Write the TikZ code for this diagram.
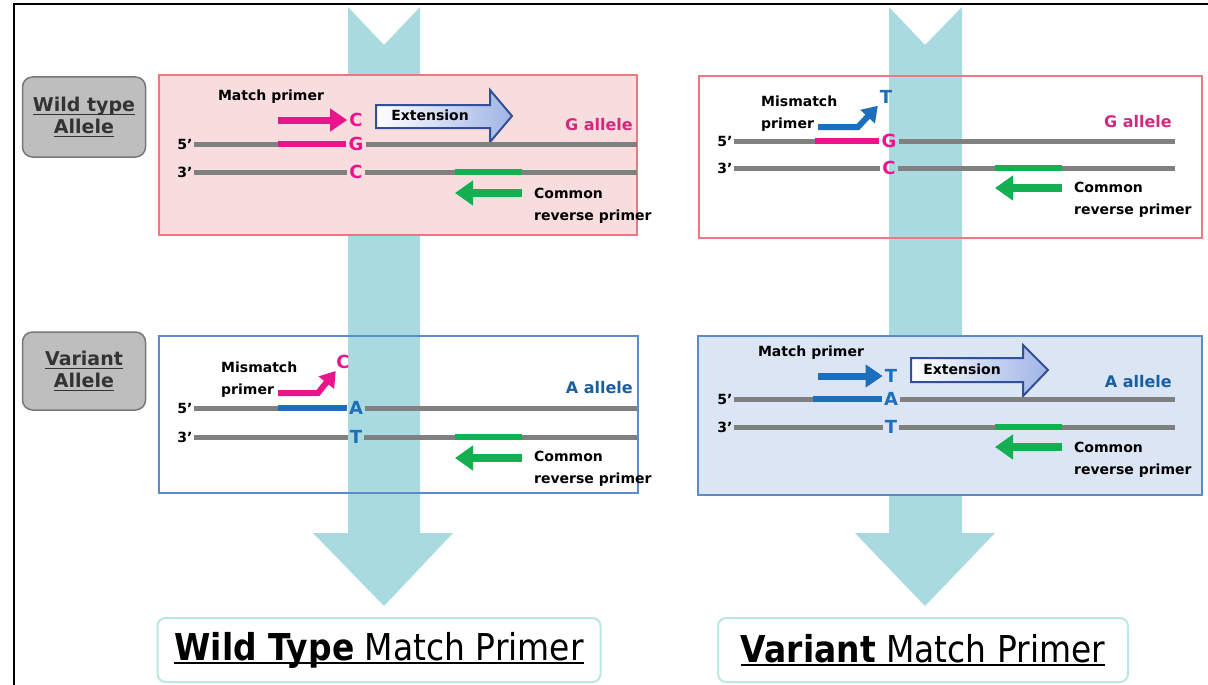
\documentclass[tikz,border=0pt]{standalone}
\usepackage{fontspec}
\setmainfont{DejaVu Sans}
\newfontfamily\titlefont[FakeStretch=0.89]{DejaVu Sans}
\usetikzlibrary{positioning,arrows.meta}
\definecolor{flowcyan}{RGB}{168,218,224}
\definecolor{panelpink}{RGB}{248,221,222}
\definecolor{panelred}{RGB}{236,120,130}
\definecolor{panelblue}{RGB}{90,140,205}
\definecolor{panelbluefill}{RGB}{219,229,243}
\definecolor{primpink}{RGB}{236,20,140}
\definecolor{allelepink}{RGB}{210,40,125}
\definecolor{primblue}{RGB}{30,110,190}
\definecolor{alleleblue}{RGB}{25,95,160}
\definecolor{strandgray}{RGB}{128,128,128}
\definecolor{primgreen}{RGB}{20,175,80}
\definecolor{extborder}{RGB}{50,80,150}
\definecolor{extfill}{RGB}{160,180,230}
\definecolor{taggray}{RGB}{120,120,120}
\definecolor{tagfill}{RGB}{190,190,190}
\definecolor{resultcyan}{RGB}{190,230,230}
% thick underline
\newsavebox{\ulbox}
\newcommand{\ulthick}[2][1.6pt]{\leavevmode\sbox{\ulbox}{#2}\rlap{\usebox{\ulbox}}\rule[-3.5pt]{\wd\ulbox}{#1}}

\begin{document}
\begin{tikzpicture}[x=1pt, y=-1pt,
            lbl/.style={font=\fontsize{14}{22}\selectfont\bfseries, inner sep=1pt, align=left},
            base/.style={font=\fontsize{18}{20}\selectfont\bfseries, inner sep=2pt},
            allele/.style={font=\fontsize{16}{18}\selectfont\bfseries, inner sep=0pt, anchor=east},
            panel/.style={rectangle, line width=2.2pt, anchor=north west},
            strand/.style={line width=5pt, strandgray},
            seg/.style={line width=5.5pt},
            primer/.style={line width=7pt, -{Triangle[length=17pt,width=22pt]}},
            bent/.style={line width=6pt, line join=miter, -{Triangle[length=15pt,width=19pt]}},
            revarrow/.style={line width=8pt, primgreen, -{Triangle[length=18pt,width=24pt]}},
            extarrow/.style={draw=extborder, line width=2pt, left color=white, right color=extfill},
            tag/.style={rectangle, rounded corners=10pt, draw=taggray, fill=tagfill, line width=1.5pt,
                       minimum width=123pt, minimum height=80pt, align=center, text=black!80,
                       font=\fontsize{19}{22}\selectfont\bfseries},
            result/.style={rectangle, rounded corners=8pt, draw=resultcyan, line width=2pt, fill=white,
                       minimum height=64pt, font=\titlefont\fontsize{37}{40}\selectfont}
        ]
            \useasboundingbox (0,0) rectangle (1208,685);
            \fill[white] (0,0) rectangle (1208,685);

            % Flow arrows behind the panels
            \fill[flowcyan] (348,7) -- (384,45) -- (420,7) -- (420,533) -- (453,533) -- (384,606)
                -- (313,533) -- (348,533) -- cycle;
            \fill[flowcyan] (889,7) -- (925,45) -- (962,7) -- (962,533) -- (995,533) -- (925,606)
                -- (855,533) -- (889,533) -- cycle;

            % Frame
            \draw[line width=2pt] (14,685) -- (14,4) -- (1208,4);

            % Panels
            \node[panel, draw=panelred, fill=panelpink, minimum width=478pt, minimum height=160pt] (wtbox) at (158,74) {};
            \node[panel, draw=panelred, minimum width=503pt, minimum height=162pt] (wtmis) at (698,75) {};
            \node[panel, draw=panelblue, minimum width=479pt, minimum height=157pt] (varmis) at (158,335) {};
            \node[panel, draw=panelblue, fill=panelbluefill, minimum width=504pt, minimum height=159pt] (varbox) at (697,335) {};

            % Side tags
            \node[tag] (wttag) at (84,117) {\ulthick[1.3pt]{Wild type}\\\ulthick[1.3pt]{Allele}};
            \node[tag, minimum height=78pt] (vartag) at (84,371) {\ulthick[1.3pt]{Variant}\\\ulthick[1.3pt]{Allele}};

            % Top left: match primer on G allele
            \node[lbl] (mp1) at (271,97) {Match primer};
            \node[base, text=primpink] (c1) at (356,120) {C};
            \coordinate (pa1) at (278,120);
            \draw[primer, primpink] (pa1) -- (c1);
            \draw[extarrow] (376,105) -- (490,105) -- (490,90) -- (512,116) -- (490,142) -- (490,128) -- (376,128) -- cycle;
            \node[lbl] (ext1) at (430,115) {Extension};
            \node[allele, text=allelepink] (al1) at (633,125) {G allele};
            \node[lbl] (s51) at (185,144) {5'};
            \node[base, text=primpink] (g1) at (356,144) {G};
            \coordinate (e51) at (637,144);
            \coordinate (pp1) at (278,144);
            \draw[strand] (s51) -- (g1);
            \draw[strand] (g1) -- (e51);
            \draw[seg, primpink] (pp1) -- (g1);
            \node[lbl] (s31) at (185,172) {3'};
            \node[base, text=primpink] (cb1) at (356,172) {C};
            \coordinate (e31) at (637,172);
            \draw[strand] (s31) -- (cb1);
            \draw[strand] (cb1) -- (e31);
            \coordinate (ga1) at (455,172);
            \coordinate (gb1) at (522,172);
            \draw[seg, primgreen] (ga1) -- (gb1);
            \coordinate (ra1) at (522,193);
            \coordinate (rb1) at (455,193);
            \draw[revarrow] (ra1) -- (rb1);
            \node[lbl, anchor=west] (rev1) at (533,206) {Common\\reverse primer};

            % Top right: mismatch primer on G allele
            \node[lbl, anchor=west] (mm2) at (760,114) {Mismatch\\primer};
            \node[base, text=primblue] (t2) at (886,97) {T};
            \coordinate (ba2) at (818,127);
            \coordinate (bk2) at (858,127);
            \draw[bent, primblue] (ba2) -- (bk2) -- (t2);
            \node[allele, text=allelepink] (al2) at (1172,122) {G allele};
            \node[lbl] (s52) at (725,141) {5'};
            \node[base, text=primpink] (g2) at (889,141) {G};
            \coordinate (e52) at (1175,141);
            \coordinate (pp2) at (815,141);
            \draw[strand] (s52) -- (g2);
            \draw[strand] (g2) -- (e52);
            \draw[seg, primpink] (pp2) -- (g2);
            \node[lbl] (s32) at (725,168) {3'};
            \node[base, text=primpink] (cb2) at (889,168) {C};
            \coordinate (e32) at (1175,168);
            \draw[strand] (s32) -- (cb2);
            \draw[strand] (cb2) -- (e32);
            \coordinate (ga2) at (995,168);
            \coordinate (gb2) at (1062,168);
            \draw[seg, primgreen] (ga2) -- (gb2);
            \coordinate (ra2) at (1062,188);
            \coordinate (rb2) at (995,188);
            \draw[revarrow] (ra2) -- (rb2);
            \node[lbl, anchor=west] (rev2) at (1073,200) {Common\\reverse primer};

            % Bottom left: mismatch primer on A allele
            \node[lbl, anchor=west] (mm3) at (220,380) {Mismatch\\primer};
            \node[base, text=primpink] (c3) at (343,362) {C};
            \coordinate (ba3) at (278,393);
            \coordinate (bk3) at (318,393);
            \draw[bent, primpink] (ba3) -- (bk3) -- (c3);
            \node[allele, text=alleleblue] (al3) at (633,388) {A allele};
            \node[lbl] (s53) at (185,408) {5'};
            \node[base, text=primblue] (a3) at (356,408) {A};
            \coordinate (e53) at (637,408);
            \coordinate (pp3) at (278,408);
            \draw[strand] (s53) -- (a3);
            \draw[strand] (a3) -- (e53);
            \draw[seg, primblue] (pp3) -- (a3);
            \node[lbl] (s33) at (185,437) {3'};
            \node[base, text=primblue] (tb3) at (356,437) {T};
            \coordinate (e33) at (637,437);
            \draw[strand] (s33) -- (tb3);
            \draw[strand] (tb3) -- (e33);
            \coordinate (ga3) at (455,437);
            \coordinate (gb3) at (522,437);
            \draw[seg, primgreen] (ga3) -- (gb3);
            \coordinate (ra3) at (522,458);
            \coordinate (rb3) at (455,458);
            \draw[revarrow] (ra3) -- (rb3);
            \node[lbl, anchor=west] (rev3) at (533,469) {Common\\reverse primer};

            % Bottom right: match primer on A allele
            \node[lbl] (mp4) at (811,353) {Match primer};
            \node[base, text=primblue] (t4) at (891,376) {T};
            \coordinate (pa4) at (818,376);
            \draw[primer, primblue] (pa4) -- (t4);
            \draw[extarrow] (911,358) -- (1023,358) -- (1023,345) -- (1048,370) -- (1023,396) -- (1023,382) -- (911,382) -- cycle;
            \node[lbl] (ext4) at (962,369) {Extension};
            \node[allele, text=alleleblue] (al4) at (1172,382) {A allele};
            \node[lbl] (s54) at (725,399) {5'};
            \node[base, text=primblue] (a4) at (891,399) {A};
            \coordinate (e54) at (1175,399);
            \coordinate (pp4) at (813,399);
            \draw[strand] (s54) -- (a4);
            \draw[strand] (a4) -- (e54);
            \draw[seg, primblue] (pp4) -- (a4);
            \node[lbl] (s34) at (725,427) {3'};
            \node[base, text=primblue] (tb4) at (891,427) {T};
            \coordinate (e34) at (1175,427);
            \draw[strand] (s34) -- (tb4);
            \draw[strand] (tb4) -- (e34);
            \coordinate (ga4) at (995,427);
            \coordinate (gb4) at (1062,427);
            \draw[seg, primgreen] (ga4) -- (gb4);
            \coordinate (ra4) at (1062,447);
            \coordinate (rb4) at (995,447);
            \draw[revarrow] (ra4) -- (rb4);
            \node[lbl, anchor=west] (rev4) at (1073,460) {Common\\reverse primer};

            % Results
            \node[result, minimum width=443pt] (wtres) at (379,650) {\ulthick{\textbf{Wild Type} Match Primer}};
            \node[result, minimum width=410pt] (varres) at (923,650) {\ulthick{\textbf{Variant} Match Primer}};
        \end{tikzpicture}
\end{document}
